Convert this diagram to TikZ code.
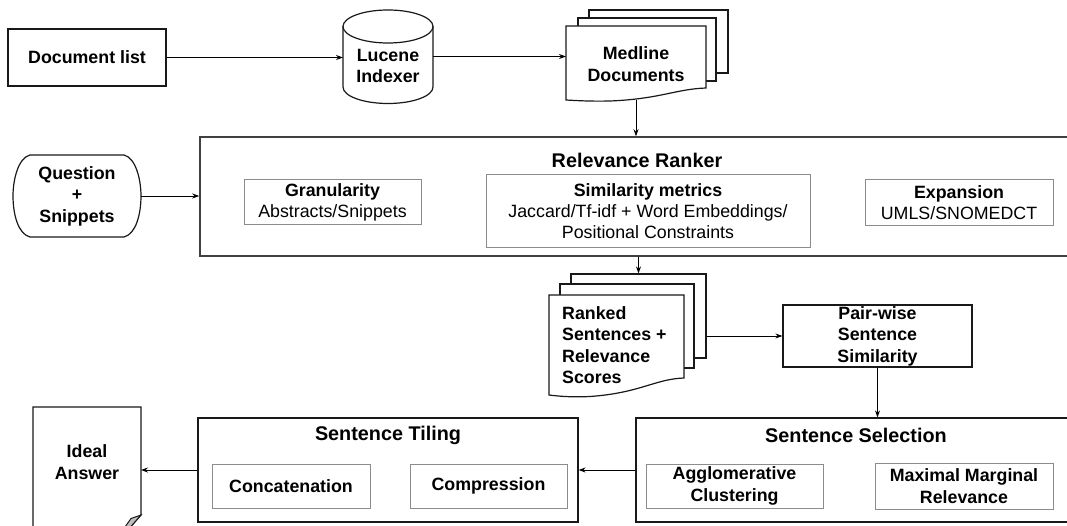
\documentclass[tikz,border=0pt]{standalone}
\usepackage{fontspec}
\setmainfont{Liberation Sans}
\usetikzlibrary{arrows.meta}
\begin{document}
\begin{tikzpicture}[x=1pt,y=-1pt,
  bl/.style={font=\fontsize{17.8}{21.5}\selectfont\bfseries, align=center, inner sep=0pt},
  ttl/.style={font=\fontsize{19.8}{23}\selectfont\bfseries, inner sep=0pt},
  rg/.style={font=\fontsize{17.8}{21}\selectfont, align=center, inner sep=0pt},
  mainbox/.style={draw=black!90, line width=1.2pt, fill=white, inner sep=0pt},
  bigbox/.style={draw=black!75, line width=1.5pt, fill=white, inner sep=0pt},
  innerbox/.style={draw=black!45, line width=1pt, fill=white, inner sep=0pt},
  ghost/.style={inner sep=0pt, outer sep=0pt},
  shp/.style={draw=black!90, line width=1.2pt, fill=white},
  conn/.style={draw=black, line width=0.9pt, -{Stealth[length=7pt,width=5pt]}}
]
\useasboundingbox (0,0) rectangle (1067,526);
\clip (0,0) rectangle (1067,526);

% Document list
\node[mainbox, bl, minimum width=158, minimum height=57] (doc) at (87,57.5) {Document list};

% Lucene cylinder
\path[shp] (343,26.5) -- (343,87) .. controls (343,96.1) and (363.1,103.5) .. (388,103.5)
  .. controls (412.9,103.5) and (433,96.1) .. (433,87) -- (433,26.5) -- cycle;
\draw[shp] (388,26.5) ellipse [x radius=45, y radius=16.5];
\node[ghost, minimum width=90, minimum height=93] (lucene) at (388,56.5) {};
\node[bl] (lucT) at (388,66) {Lucene\\Indexer};

% Medline documents stack
\node[mainbox, minimum width=139, minimum height=63] (mback3) at (658.5,41.5) {};
\node[mainbox, minimum width=138, minimum height=63] (mback2) at (647,49.5) {};
\path[shp] (566,26) -- (706,26) -- (706,88) .. controls (676,89) and (660,99) .. (610,101)
  .. controls (590,101.5) and (575,100.5) .. (566,100) -- cycle;
\node[ghost, minimum width=140, minimum height=74] (med) at (636,63) {};
\node[bl] (medT) at (636,64) {Medline\\Documents};

% Question + Snippets
\path[shp] (30,155) -- (124,155) .. controls (136,158) and (141,180) .. (141,196)
  .. controls (141,214) and (136,234) .. (124,237) -- (30,237)
  .. controls (18,234) and (13,214) .. (13,196) .. controls (13,180) and (18,158) .. (30,155) -- cycle;
\node[ghost, minimum width=128, minimum height=82] (q) at (77,196) {};
\node[bl] (qT) at (77,196) {Question\\+\\Snippets};

% Relevance Ranker
\node[bigbox, minimum width=880, minimum height=119] (ranker) at (640,196.5) {};
\node[ttl] (rankT) at (637,160) {Relevance Ranker};
\node[innerbox, rg, minimum width=177, minimum height=45] (gran) at (332.5,202.5)
  {\textbf{Granularity}\\Abstracts/Snippets};
\node[innerbox, rg, minimum width=324, minimum height=73] (sim) at (648,211.5)
  {\textbf{Similarity metrics}\\Jaccard/Tf-idf + Word Embeddings/\\Positional Constraints};
\node[innerbox, rg, minimum width=188, minimum height=46] (exp) at (959,203)
  {\textbf{Expansion}\\UMLS/SNOMEDCT};

% Ranked sentences stack
\node[mainbox, minimum width=135, minimum height=84] (rback3) at (638.5,316) {};
\node[mainbox, minimum width=134, minimum height=84] (rback2) at (627,326) {};
\path[shp] (549,295) -- (684,295) -- (684,378) .. controls (655,379) and (640,393) .. (590,396.5)
  .. controls (570,397.5) and (557,396) .. (549,395) -- cycle;
\node[ghost, minimum width=135, minimum height=100] (ranked) at (616.5,345) {};
\node[bl, align=left, anchor=west] (rankedT) at (562,345) {Ranked\\Sentences +\\Relevance\\Scores};

% Pair-wise
\node[mainbox, bl, minimum width=189, minimum height=62] (pw) at (877.5,336) {Pair-wise\\Sentence\\Similarity};

% Sentence Selection
\node[mainbox, minimum width=440, minimum height=104] (sel) at (856,470) {};
\node[ttl] (selT) at (856,435) {Sentence Selection};
\node[innerbox, bl, minimum width=177, minimum height=44] (agg) at (734.5,486) {Agglomerative\\Clustering};
\node[innerbox, bl, minimum width=178, minimum height=46] (mmr) at (964,486) {Maximal Marginal\\Relevance};

% Sentence Tiling
\node[mainbox, minimum width=380, minimum height=104] (til) at (388,470) {};
\node[ttl] (tilT) at (388,435) {Sentence Tiling};
\node[innerbox, bl, minimum width=158, minimum height=44] (conc) at (291,486) {Concatenation};
\node[innerbox, bl, minimum width=157, minimum height=44] (comp) at (488.5,486) {Compression};

% Ideal Answer page
\path[shp] (33,407) -- (141,407) -- (141,515) -- (127,531) -- (33,531) -- cycle;
\draw[draw=black!90, line width=1pt, fill=black!25] (141,515) -- (131,518.5) -- (125,527) -- (127,531) -- cycle;
\node[ghost, minimum width=108, minimum height=124] (ideal) at (87,469) {};
\node[bl] (idealT) at (87,462) {Ideal\\Answer};

% Connectors
\draw[conn] (doc.east) -- (doc.east -| lucene.west);
\draw[conn] (lucene.east) -- (lucene.east -| med.west);
\draw[conn] (med.south) -- (med.south |- ranker.north);
\draw[conn] (q.east) -- (q.east -| ranker.west);
\draw[conn] (rback3.north |- ranker.south) -- (rback3.north);
\draw[conn] (pw.west -| rback3.east) -- (pw.west);
\draw[conn] (pw.south) -- (pw.south |- sel.north);
\draw[conn] (sel.west) -- (til.east);
\draw[conn] (til.west) -- (til.west -| ideal.east);
\end{tikzpicture}
\end{document}
